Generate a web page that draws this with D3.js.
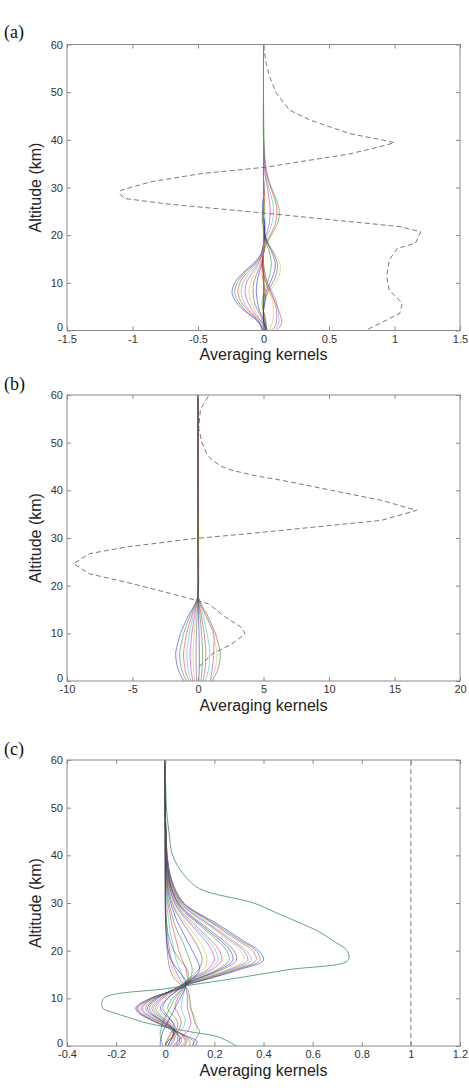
<!DOCTYPE html>
<html><head><meta charset="utf-8">
<script src="https://cdn.jsdelivr.net/npm/d3@7/dist/d3.min.js"></script>
<style>body{margin:0;background:#fff}svg{display:block}</style>
</head><body>
<svg id="chart" width="469" height="1088"></svg>
<script>
// ---------- shared ----------
const altTicks = [0, 10, 20, 30, 40, 50, 60];
const lineColors = ["#0000ff", "#008000", "#ff0000", "#00bfbf", "#bf00bf", "#bfbf00", "#404040"];

// ---------- panel (a) ----------
const xTicksA = [-1.5, -1, -0.5, 0, 0.5, 1, 1.5];
const xLabelsA = ["-1.5", "-1", "-0.5", "0", "0.5", "1", "1.5"];
const altA = [0,1,2,3,4,6,8,10,12,14,16,18,20,22,24,26,28,30,32,35,40,50,60];
const kernelsA = [
  [-0.01,-0.02,-0.05,-0.09,-0.14,-0.21,-0.24,-0.22,-0.16,-0.08,-0.02,0.00,0.01,0.01,0.00,-0.01,0.00,0.00,0.00,0.00,0.00,0.00,0.00],
  [-0.01,-0.02,-0.04,-0.08,-0.13,-0.19,-0.22,-0.20,-0.15,-0.07,-0.02,0.00,0.01,0.00,0.00,0.01,0.00,0.00,0.00,0.00,0.00,0.00,0.00],
  [0.00,-0.02,-0.04,-0.07,-0.11,-0.17,-0.195,-0.18,-0.13,-0.06,-0.01,0.01,0.01,0.00,0.00,0.00,0.01,0.00,0.00,0.00,0.00,0.00,0.00],
  [0.00,-0.01,-0.03,-0.06,-0.10,-0.15,-0.17,-0.155,-0.11,-0.05,-0.01,0.00,0.00,0.01,0.01,0.00,0.00,0.00,0.00,0.00,0.00,0.00,0.00],
  [0.01,0.00,-0.02,-0.05,-0.08,-0.12,-0.14,-0.13,-0.09,-0.04,-0.01,0.00,0.01,0.00,0.00,0.00,0.00,0.00,0.00,0.00,0.00,0.00,0.00],
  [0.01,0.00,-0.02,-0.04,-0.06,-0.095,-0.11,-0.10,-0.07,-0.03,0.00,0.01,0.00,0.00,0.00,0.01,0.00,0.00,0.00,0.00,0.00,0.00,0.00],
  [0.02,0.01,-0.01,-0.02,-0.04,-0.07,-0.08,-0.075,-0.05,-0.02,0.00,0.00,0.01,0.00,0.00,0.00,0.00,0.01,0.00,0.00,0.00,0.00,0.00],
  [0.02,0.01,0.00,-0.01,-0.03,-0.045,-0.055,-0.05,-0.035,-0.01,0.00,0.00,0.00,0.01,0.00,0.00,0.00,0.00,0.00,0.00,0.00,0.00,0.00],
  [0.03,0.02,0.02,0.01,0.00,-0.01,0.00,0.01,0.00,-0.01,0.00,0.02,0.06,0.10,0.12,0.115,0.09,0.06,0.035,0.015,0.005,0.00,0.00],
  [0.02,0.02,0.01,0.01,0.00,0.00,0.01,0.00,-0.01,-0.01,0.00,0.01,0.05,0.085,0.10,0.10,0.08,0.055,0.03,0.01,0.00,0.00,0.00],
  [0.01,0.01,0.01,0.00,0.00,0.00,0.00,0.00,0.00,0.00,0.00,0.00,0.03,0.06,0.075,0.075,0.06,0.04,0.02,0.01,0.00,0.00,0.00],
  [0.00,0.01,0.00,0.00,0.00,0.00,0.00,0.00,0.00,0.00,0.00,0.00,0.02,0.04,0.05,0.05,0.04,0.03,0.015,0.005,0.00,0.00,0.00],
  [0.03,0.02,0.01,0.00,-0.01,0.00,0.04,0.09,0.125,0.125,0.09,0.045,0.01,-0.01,-0.01,0.00,0.00,0.00,0.00,0.00,0.00,0.00,0.00],
  [0.02,0.02,0.01,0.00,0.00,0.01,0.03,0.07,0.10,0.105,0.08,0.04,0.01,0.00,-0.01,0.00,0.00,0.00,0.00,0.00,0.00,0.00,0.00],
  [0.01,0.01,0.00,0.00,0.00,0.01,0.02,0.05,0.08,0.09,0.07,0.035,0.01,0.00,0.00,0.00,0.00,0.00,0.00,0.00,0.00,0.00,0.00],
  [0.00,0.00,0.00,0.00,0.00,0.00,0.01,0.03,0.05,0.06,0.05,0.025,0.005,0.00,0.00,0.00,0.00,0.00,0.00,0.00,0.00,0.00,0.00],
  [0.10,0.13,0.14,0.13,0.12,0.09,0.05,0.02,0.00,-0.01,0.00,0.00,0.00,0.00,0.00,0.00,0.00,0.00,0.00,0.00,0.00,0.00,0.00],
  [0.08,0.11,0.12,0.115,0.11,0.10,0.07,0.03,0.01,0.00,0.00,0.00,0.00,0.00,0.00,0.00,0.00,0.00,0.00,0.00,0.00,0.00,0.00],
  [0.06,0.09,0.10,0.10,0.10,0.085,0.06,0.03,0.01,0.00,0.00,0.00,0.00,0.00,0.00,0.00,0.00,0.00,0.00,0.00,0.00,0.00,0.00],
  [0.04,0.06,0.07,0.075,0.075,0.07,0.05,0.025,0.01,0.00,0.00,0.00,0.00,0.00,0.00,0.00,0.00,0.00,0.00,0.00,0.00,0.00,0.00]
];
const dashAltA = [0.3,2.2,3.6,5.7,8.5,11.3,14.8,17.2,18.3,20.7,21.8,23.2,24.6,26.5,27.7,28.7,29.4,31.2,32.9,34.3,35.5,37,38.5,39.4,39.9,41.3,44.1,46.2,49.7,53,56,60];
const dashValA = [0.80,0.94,1.04,1.06,0.96,0.94,0.96,1.02,1.16,1.2,1.04,0.53,0.02,-0.72,-1.06,-1.1,-1.09,-0.86,-0.48,0.03,0.3,0.65,0.88,1.0,0.92,0.66,0.36,0.2,0.1,0.05,0.02,0.0];

// ---------- panel (b) ----------
const xTicksB = [-10, -5, 0, 5, 10, 15, 20];
const xLabelsB = ["-10", "-5", "0", "5", "10", "15", "20"];
const altB = [0,2,4,6,8,10,12,14,16,18,20,25,30,35,40,50,60];
const kernelsB = [
  [-1.07,-1.46,-1.65,-1.7,-1.53,-1.33,-1.02,-0.68,-0.26,0.0,0.03,0.0,0.02,0.0,0.0,0.0,0.0],
  [-0.88,-1.2,-1.36,-1.4,-1.26,-1.09,-0.84,-0.56,-0.21,0.0,-0.03,0.04,0.0,0.01,0.0,0.0,0.0],
  [-0.69,-0.95,-1.07,-1.1,-0.99,-0.86,-0.66,-0.44,-0.17,0.0,0.04,0.0,0.03,0.0,0.0,0.0,0.0],
  [-0.54,-0.73,-0.82,-0.85,-0.77,-0.66,-0.51,-0.34,-0.13,0.0,0.02,0.05,-0.02,0.0,0.0,0.0,0.0],
  [-0.38,-0.52,-0.58,-0.6,-0.54,-0.47,-0.36,-0.24,-0.09,0.0,0.05,0.03,0.0,0.02,0.0,0.0,0.0],
  [-0.24,-0.33,-0.37,-0.38,-0.34,-0.3,-0.23,-0.15,-0.06,0.0,0.0,0.06,0.03,0.0,0.0,0.0,0.0],
  [-0.1,-0.13,-0.15,-0.15,-0.14,-0.12,-0.09,-0.06,-0.02,0.0,0.03,0.0,0.05,0.02,0.0,0.0,0.0],
  [0.06,0.09,0.1,0.1,0.09,0.08,0.06,0.04,0.02,0.0,-0.02,0.04,0.0,0.0,0.01,0.0,0.0],
  [0.22,0.3,0.34,0.35,0.32,0.27,0.21,0.14,0.05,0.0,0.04,-0.02,0.03,0.0,0.0,0.0,0.0],
  [0.38,0.52,0.58,0.6,0.54,0.47,0.36,0.24,0.09,0.0,0.0,0.05,0.02,0.03,0.0,0.0,0.0],
  [0.57,0.77,0.87,0.9,0.81,0.7,0.54,0.36,0.14,0.0,0.03,0.0,-0.02,0.0,0.0,0.0,0.0],
  [0.95,1.05,1.15,1.2,1.22,1.2,0.9,0.55,0.2,0.0,0.02,0.03,0.0,0.0,0.0,0.0,0.0],
  [0.91,1.25,1.41,1.45,1.31,1.13,0.87,0.58,0.22,0.0,-0.02,0.02,0.04,0.0,0.0,0.0,0.0],
  [1.07,1.46,1.65,1.7,1.53,1.33,1.02,0.68,0.26,0.0,0.03,0.0,0.0,0.02,0.0,0.0,0.0]
];
const dashAltB = [3.0,3.6,5.7,7.8,9.9,11.3,13.4,16.2,18.3,20.4,22.5,24.6,26.7,28.1,29.9,30.9,32.3,33.7,35.8,37.9,40,42.1,43,44.2,45,46.3,47.5,50,53,56.8,58,60];
const dashValB = [0.1,0.3,1.1,2.6,3.6,3.3,2.1,0.8,-2,-5,-8.3,-9.5,-8.3,-5.5,-0.2,3.8,8.9,14,16.7,14,10.2,6.4,4.5,2.6,1.8,1.1,0.7,0.3,0.06,0.18,0.4,0.85];

// ---------- panel (c) ----------
const xTicksC = [-0.4, -0.2, 0, 0.2, 0.4, 0.6, 0.8, 1, 1.2];
const xLabelsC = ["-0.4", "-0.2", "0", "0.2", "0.4", "0.6", "0.8", "1", "1.2"];
const altC = [0,1,2,3,4,5,6,7,8,10,12,13,14,16,18,20,22,24,26,28,30,33,36,40,45,50,60];
const kernelsC = [
  [0.12,0.13,0.09,0.045,0.0,-0.04,-0.08,-0.11,-0.12, -0.06,0.06,0.10,0.17,0.30,0.40,0.38,0.32,0.26,0.20,0.13,0.075, 0.04,0.02,0.008,0.003,0,0],
  [0.11,0.115,0.085,0.05,0.005,-0.035,-0.075,-0.105,-0.115, -0.058,0.058,0.098,0.165,0.29,0.385,0.37,0.31,0.25,0.19,0.125,0.072, 0.037,0.019,0.007,0.003,0,0],
  [0.10,0.10,0.08,0.05,0.01,-0.03,-0.07,-0.10,-0.11, -0.055,0.055,0.095,0.16,0.28,0.37,0.355,0.30,0.24,0.185,0.12,0.07, 0.035,0.018,0.007,0.003,0,0],
  [0.08,0.09,0.075,0.05,0.015,-0.02,-0.06,-0.09,-0.10, -0.05,0.05,0.09,0.15,0.27,0.35,0.33,0.28,0.225,0.17,0.11,0.065, 0.032,0.016,0.006,0.002,0,0],
  [0.075,0.085,0.072,0.05,0.018,-0.018,-0.055,-0.085,-0.095, -0.048,0.048,0.088,0.145,0.26,0.335,0.32,0.27,0.218,0.163,0.105,0.062, 0.031,0.015,0.006,0.002,0,0],
  [0.07,0.08,0.07,0.05,0.02,-0.015,-0.05,-0.08,-0.09, -0.045,0.045,0.085,0.14,0.25,0.32,0.305,0.26,0.21,0.155,0.10,0.06, 0.03,0.015,0.006,0.002,0,0],
  [0.05,0.065,0.06,0.045,0.02,-0.01,-0.04,-0.07,-0.08, -0.04,0.04,0.08,0.13,0.23,0.29,0.28,0.24,0.19,0.14,0.09,0.055, 0.027,0.013,0.005,0.002,0,0],
  [0.045,0.058,0.055,0.042,0.022,-0.005,-0.035,-0.062,-0.072, -0.035,0.042,0.079,0.125,0.22,0.275,0.265,0.228,0.18,0.132,0.085,0.052, 0.025,0.012,0.005,0.002,0,0],
  [0.04,0.05,0.05,0.04,0.025,0.0,-0.03,-0.055,-0.065, -0.03,0.04,0.078,0.12,0.21,0.26,0.25,0.215,0.17,0.125,0.08,0.05, 0.024,0.012,0.005,0.002,0,0],
  [0.02,0.035,0.04,0.035,0.025,0.005,-0.02,-0.045,-0.055, -0.02,0.04,0.075,0.11,0.19,0.23,0.22,0.19,0.15,0.11,0.07,0.045, 0.02,0.01,0.004,0.001,0,0],
  [0.015,0.028,0.035,0.032,0.027,0.01,-0.015,-0.038,-0.048, -0.015,0.042,0.073,0.105,0.18,0.215,0.205,0.178,0.14,0.1,0.065,0.04, 0.019,0.009,0.003,0.001,0,0],
  [0.01,0.02,0.03,0.03,0.03,0.015,-0.01,-0.03,-0.04, -0.01,0.045,0.072,0.10,0.17,0.20,0.19,0.165,0.13,0.095,0.06,0.038, 0.018,0.009,0.003,0.001,0,0],
  [0.0,0.01,0.02,0.025,0.03,0.02,0.0,-0.02,-0.03, 0.0,0.045,0.07,0.095,0.155,0.17,0.16,0.14,0.11,0.08,0.05,0.032, 0.015,0.008,0.003,0.001,0,0],
  [0.0,0.005,0.015,0.025,0.035,0.03,0.015,0.0,-0.01, 0.01,0.055,0.075,0.095,0.135,0.15,0.14,0.12,0.095,0.07,0.045,0.028, 0.013,0.007,0.003,0.001,0,0],
  [0.01,0.02,0.03,0.035,0.04,0.03,0.01,-0.01,-0.02, 0.01,0.06,0.088,0.11,0.14,0.13,0.11,0.09,0.07,0.05,0.035,0.022, 0.01,0.005,0.002,0,0,0],
  [0.0,0.01,0.03,0.04,0.05,0.05,0.04,0.02,0.01, 0.03,0.07,0.088,0.10,0.11,0.10,0.085,0.07,0.05,0.035,0.025,0.015, 0.007,0.003,0.001,0,0,0],
  [0.0,0.01,0.03,0.05,0.06,0.065,0.06,0.05,0.04, 0.05,0.075,0.085,0.09,0.085,0.07,0.055,0.045,0.035,0.025,0.018,0.01, 0.005,0.002,0,0,0,0],
  [0.01,0.02,0.04,0.06,0.075,0.08,0.08,0.07,0.065, 0.07,0.08,0.08,0.075,0.06,0.045,0.035,0.028,0.02,0.015,0.01,0.006, 0.003,0.001,0,0,0,0],
  [0.03,0.05,0.07,0.09,0.10,0.105,0.10,0.095,0.09, 0.09,0.085,0.075,0.06,0.04,0.025,0.018,0.012,0.008,0.005,0.003,0.002, 0.001,0,0,0,0,0],
  [0.06,0.08,0.10,0.12,0.13,0.125,0.12,0.11,0.10, 0.095,0.085,0.07,0.05,0.03,0.02,0.012,0.008,0.005,0.003,0.002,0.001, 0,0,0,0,0,0],
  [0.11,0.12,0.13,0.14,0.13,0.12,0.115,0.11,0.105, 0.10,0.09,0.06,0.04,0.02,0.012,0.008,0.005,0.003,0.002,0.001,0, 0,0,0,0,0,0],
  [-0.02,-0.02,-0.015,-0.01,0.0,0.01,0.02,0.03,0.04, 0.06,0.08,0.085,0.08,0.05,0.025,0.012,0.006,0.003,0.001,0,0, 0,0,0,0,0,0],
  [-0.01,-0.015,-0.02,-0.02,-0.015,-0.01,0.0,0.01,0.02, 0.04,0.07,0.085,0.095,0.09,0.06,0.035,0.02,0.01,0.005,0.002,0.001, 0,0,0,0,0,0],
  [0.29,0.255,0.21,0.10,0.0,-0.09,-0.15,-0.21,-0.255, -0.25,0.0,0.13,0.26,0.50,0.745,0.74,0.685,0.625,0.54,0.45,0.36, 0.14,0.075,0.03,0.015,0.005,0.0]
];
const dashAltC = [0, 60];
const dashValC = [1, 1];

// ---------- layout ----------
const L = 67, R = 460, H = 286;
const svg = d3.select("#chart");
const sans = "'Liberation Sans', Arial, sans-serif";
const serif = "'Liberation Serif', 'Times New Roman', serif";

function drawPanel(p) {
  const g = svg.append("g");
  const x = d3.scaleLinear().domain(p.xDomain).range([L, R]);
  const y = d3.scaleLinear().domain([0, 60]).range([p.top + H, p.top]);

  const smooth = d3.line().x(d => x(d[0])).y(d => y(d[1]))
    .curve(d3.curveCatmullRom.alpha(0.5));
  p.kernels.forEach((k, i) => {
    const isOut = p.outlierGreen && i === p.kernels.length - 1;
    g.append("path")
      .datum(k.map((v, j) => [v, p.alt[j]]))
      .attr("d", smooth)
      .attr("fill", "none")
      .attr("stroke", isOut ? "#2e8b57" : lineColors[i % lineColors.length])
      .attr("stroke-width", 0.9)
      .attr("stroke-opacity", isOut ? 0.85 : 0.55);
  });

  const straight = d3.line().x(d => x(d[0])).y(d => y(d[1]));
  g.append("path")
    .datum(p.dashVal.map((v, j) => [v, p.dashAlt[j]]))
    .attr("d", straight)
    .attr("fill", "none")
    .attr("stroke", "#6a6a6a")
    .attr("stroke-width", 0.9)
    .attr("stroke-dasharray", "5,3");

  // frame
  g.append("rect").attr("x", L).attr("y", p.top).attr("width", R - L).attr("height", H)
    .attr("fill", "none").attr("stroke", "#8a8a8a").attr("stroke-width", 1);

  const styleAxis = sel => {
    sel.select(".domain").remove();
    sel.selectAll(".tick line").attr("stroke", "#8a8a8a");
    sel.selectAll("text").attr("fill", "#333").style("font-family", sans).style("font-size", "11px");
  };
  g.append("g").attr("transform", `translate(0,${p.top + H})`)
    .call(d3.axisBottom(x).tickValues(p.xTicks).tickFormat((d, i) => p.xLabels[i])
      .tickSizeInner(-4).tickSizeOuter(0).tickPadding(4.5)).call(styleAxis);
  g.append("g").attr("transform", `translate(0,${p.top})`)
    .call(d3.axisTop(x).tickValues(p.xTicks).tickFormat("")
      .tickSizeInner(-4).tickSizeOuter(0)).call(styleAxis);
  const yAx = g.append("g").attr("transform", `translate(${L},0)`)
    .call(d3.axisLeft(y).tickValues(altTicks).tickFormat(d3.format("d"))
      .tickSizeInner(-4).tickSizeOuter(0).tickPadding(4)).call(styleAxis);
  // lift the bottom "0" slightly so it sits above the first x tick label
  yAx.selectAll(".tick").filter(d => d === 0).select("text").attr("y", -3.5);
  g.append("g").attr("transform", `translate(${R},0)`)
    .call(d3.axisRight(y).tickValues(altTicks).tickFormat("")
      .tickSizeInner(-4).tickSizeOuter(0)).call(styleAxis);

  g.append("text").attr("x", (L + R) / 2).attr("y", p.top + H + 29.5)
    .attr("text-anchor", "middle").style("font-family", sans).style("font-size", "16px")
    .attr("fill", "#222").text("Averaging kernels");
  g.append("text").attr("transform", `translate(41,${p.top + H / 2}) rotate(-90)`)
    .attr("text-anchor", "middle").style("font-family", sans).style("font-size", "16px")
    .attr("fill", "#222").text("Altitude (km)");
  g.append("text").attr("x", 4).attr("y", p.labelY)
    .style("font-family", serif).style("font-size", "18px").attr("fill", "#111").text(p.label);
}

drawPanel({top: 44.5, xDomain: [-1.5, 1.5], xTicks: xTicksA, xLabels: xLabelsA,
  alt: altA, kernels: kernelsA, dashAlt: dashAltA, dashVal: dashValA, label: "(a)", labelY: 38});
drawPanel({top: 395, xDomain: [-10, 20], xTicks: xTicksB, xLabels: xLabelsB,
  alt: altB, kernels: kernelsB, dashAlt: dashAltB, dashVal: dashValB, label: "(b)", labelY: 390});
drawPanel({top: 760, xDomain: [-0.4, 1.2], xTicks: xTicksC, xLabels: xLabelsC,
  alt: altC, kernels: kernelsC, dashAlt: dashAltC, dashVal: dashValC, label: "(c)", labelY: 755, outlierGreen: true});
</script>
</body></html>
